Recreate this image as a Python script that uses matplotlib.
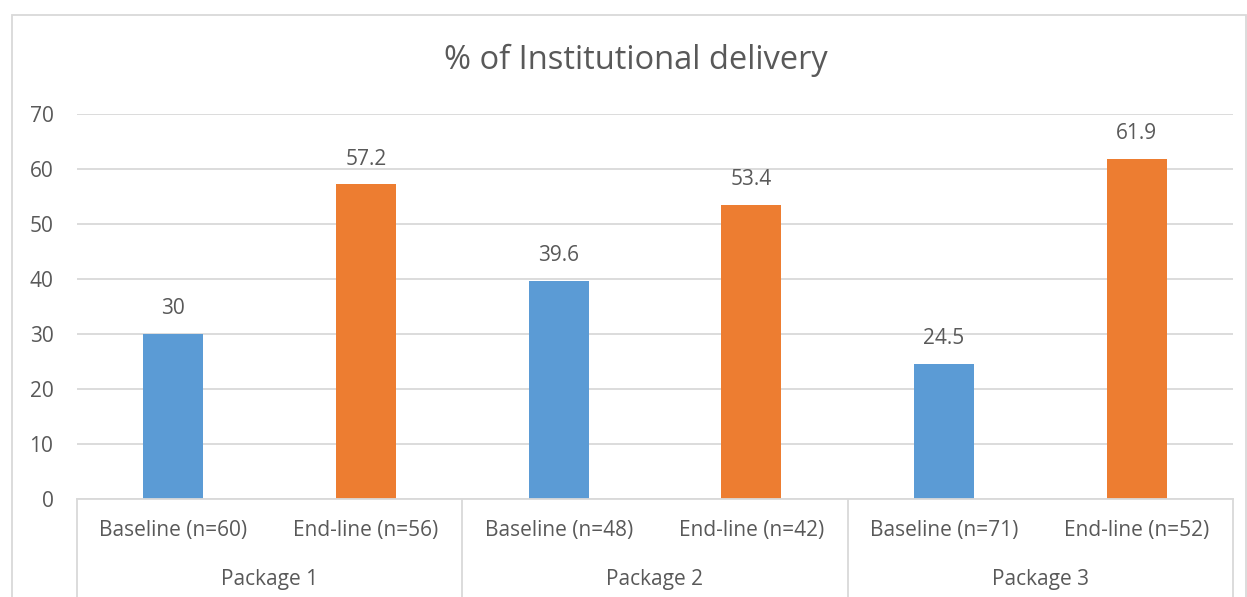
import matplotlib.pyplot as plt
from matplotlib.patches import Rectangle
from matplotlib import transforms

plt.rcParams['font.family'] = ['Open Sans', 'DejaVu Sans']

# chart data
packages = ["Package 1", "Package 2", "Package 3"]
labels = ["Baseline (n=60)", "End-line (n=56)",
          "Baseline (n=48)", "End-line (n=42)",
          "Baseline (n=71)", "End-line (n=52)"]
values = [30, 57.2, 39.6, 53.4, 24.5, 61.9]
colors = ["#5B9BD5", "#ED7D31"] * 3

text_color = "#595959"
grid_color = "#D9D9D9"
fs = 15

W, H = 1247, 597
fig = plt.figure(figsize=(W / 100, H / 100), dpi=100)
ax = fig.add_axes([77 / W, (H - 499) / H, (1233 - 77) / W, (499 - 114) / H])

x = list(range(len(values)))
ax.bar(x, values, width=0.31, color=colors, zorder=2)
for xi, v in zip(x, values):
    ax.text(xi, v + 4.6, f"{v:g}", ha="center", va="center",
            fontsize=fs, color=text_color)

ax.set_xlim(-0.5, len(values) - 0.5)
ax.set_ylim(0, 70)
ax.set_yticks(range(0, 71, 10))
ax.yaxis.grid(True, color=grid_color, linewidth=1.3, zorder=0)
ax.tick_params(axis="y", length=0, pad=17, labelsize=fs, labelcolor=text_color)
ax.tick_params(axis="x", length=0, bottom=False, labelbottom=False)
for side in ["left", "right", "top"]:
    ax.spines[side].set_visible(False)
ax.spines["bottom"].set_color(grid_color)
ax.spines["bottom"].set_linewidth(1.3)

# two-level category axis below the plot
trans = transforms.blended_transform_factory(ax.transData, ax.transAxes)
for xi, lab in zip(x, labels):
    ax.text(xi, -0.082, lab, transform=trans, ha="center", va="center",
            fontsize=fs, color=text_color)
for i, pkg in enumerate(packages):
    ax.text(2 * i + 0.5, -0.208, pkg, transform=trans, ha="center", va="center",
            fontsize=fs, color=text_color)
for sep in [-0.5, 1.5, 3.5, 5.5]:
    ax.plot([sep, sep], [0, -0.4], transform=trans, color=grid_color,
            linewidth=1.3, clip_on=False)

fig.text(636 / W, (H - 60) / H, "% of Institutional delivery",
         ha="center", va="center", fontsize=23.5, color=text_color)

# outer chart border
fig.add_artist(Rectangle((12 / W, -0.1), (1246 - 12) / W, (H - 15) / H + 0.1,
                         transform=fig.transFigure, fill=False,
                         edgecolor=grid_color, linewidth=1.3))

fig.savefig("out.png", dpi=100)
